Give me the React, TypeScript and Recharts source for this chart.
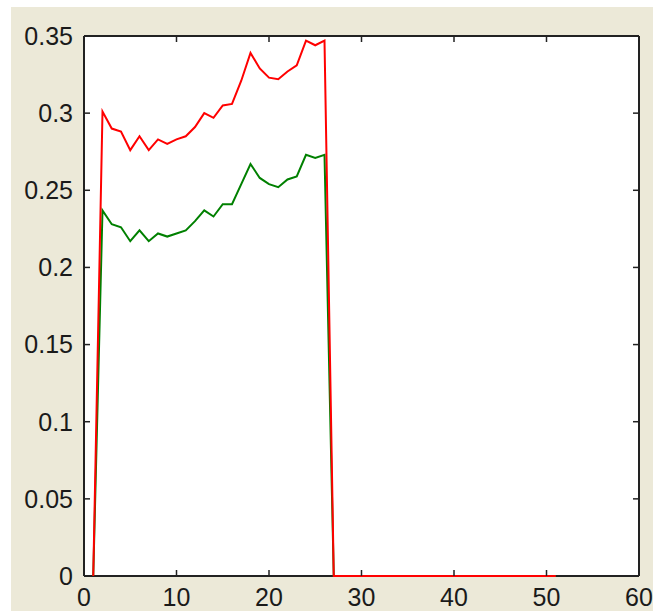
import React from 'react';
import { LineChart, Line, XAxis, YAxis, CartesianGrid } from 'recharts';

const xValues = [
  1, 2, 3, 4, 5, 6, 7, 8, 9, 10, 11, 12, 13, 14, 15, 16, 17, 18, 19, 20, 21, 22, 23, 24, 25, 26,
  27, 28, 29, 30, 31, 32, 33, 34, 35, 36, 37, 38, 39, 40, 41, 42, 43, 44, 45, 46, 47, 48, 49, 50, 51,
];

const redValues = [
  0, 0.301, 0.29, 0.288, 0.276, 0.285, 0.276, 0.283, 0.28, 0.283, 0.285, 0.291, 0.3, 0.297, 0.305,
  0.306, 0.321, 0.339, 0.329, 0.323, 0.322, 0.327, 0.331, 0.347, 0.344, 0.347,
  0, 0, 0, 0, 0, 0, 0, 0, 0, 0, 0, 0, 0, 0, 0, 0, 0, 0, 0, 0, 0, 0, 0, 0, 0,
];

const greenValues = [
  0, 0.237, 0.228, 0.226, 0.217, 0.224, 0.217, 0.222, 0.22, 0.222, 0.224, 0.23, 0.237, 0.233, 0.241,
  0.241, 0.254, 0.267, 0.258, 0.254, 0.252, 0.257, 0.259, 0.273, 0.271, 0.273,
  0, 0, 0, 0, 0, 0, 0, 0, 0, 0, 0, 0, 0, 0, 0, 0, 0, 0, 0, 0, 0, 0, 0, 0, 0,
];

const xTicks = [0, 10, 20, 30, 40, 50, 60];
const yTicks = [0, 0.05, 0.1, 0.15, 0.2, 0.25, 0.3, 0.35];
const yTickLabels = ['0', '0.05', '0.1', '0.15', '0.2', '0.25', '0.3', '0.35'];

const data = xValues.map((x, i) => ({ x, red: redValues[i], green: greenValues[i] }));

const tickFont = { fontSize: 25, fill: '#1a1a1a', fontFamily: '"Liberation Sans", Arial, sans-serif' };
const axisColor = '#222';
const blank = () => '';

const boxRows = ({ offset }: any) => [offset.top, offset.top + offset.height];
const boxCols = ({ offset }: any) => [offset.left, offset.left + offset.width];

export default function App() {
  return (
    <div style={{ position: 'absolute', left: 0, top: 0, width: 653, height: 611, background: '#ffffff' }}>
      <div style={{ position: 'absolute', left: 11, top: 7, width: 642, height: 604, background: '#ECE9D8' }} />
      <div style={{ position: 'absolute', left: 0, top: 0 }}>
        <LineChart width={653} height={611} data={data} margin={{ top: 36, right: 14, bottom: 5, left: 24 }}>
          <CartesianGrid xAxisId="x" yAxisId="y" fill="#ffffff" stroke={axisColor} strokeWidth={2}
            horizontalCoordinatesGenerator={boxRows} verticalCoordinatesGenerator={boxCols} />
          <XAxis xAxisId="xb" dataKey="x" type="number" domain={[0, 60]} ticks={xTicks} orientation="bottom" mirror height={1}
            axisLine={false} tickLine={{ stroke: axisColor, strokeWidth: 1.5 }} tickSize={6} tickFormatter={blank} interval={0} />
          <XAxis xAxisId="xt" dataKey="x" type="number" domain={[0, 60]} ticks={xTicks} orientation="top" mirror height={1}
            axisLine={false} tickLine={{ stroke: axisColor, strokeWidth: 1.5 }} tickSize={6} tickFormatter={blank} interval={0} />
          <XAxis xAxisId="x" dataKey="x" type="number" domain={[0, 60]} ticks={xTicks} orientation="bottom" height={30}
            axisLine={false} tickLine={false} tickSize={0} tickMargin={12} tick={tickFont} interval={0} />
          <YAxis yAxisId="yl" type="number" domain={[0, 0.35]} ticks={yTicks} orientation="left" mirror width={1}
            axisLine={false} tickLine={{ stroke: axisColor, strokeWidth: 1.5 }} tickSize={6} tickFormatter={blank} interval={0} />
          <YAxis yAxisId="yr" type="number" domain={[0, 0.35]} ticks={yTicks} orientation="right" mirror width={1}
            axisLine={false} tickLine={{ stroke: axisColor, strokeWidth: 1.5 }} tickSize={6} tickFormatter={blank} interval={0} />
          <YAxis yAxisId="y" type="number" domain={[0, 0.35]} ticks={yTicks} orientation="left" width={60}
            axisLine={false} tickLine={false} tickSize={0} tickMargin={11} tick={tickFont} interval={0}
            tickFormatter={(v: number) => yTickLabels[yTicks.indexOf(v)] ?? String(v)} />
          <Line xAxisId="xb" yAxisId="yl" type="linear" dataKey="red" stroke="none" strokeWidth={0} dot={false} activeDot={false} legendType="none" isAnimationActive={false} />
          <Line xAxisId="xt" yAxisId="yr" type="linear" dataKey="red" stroke="none" strokeWidth={0} dot={false} activeDot={false} legendType="none" isAnimationActive={false} />
          <Line xAxisId="x" yAxisId="y" type="linear" dataKey="green" stroke="#008000" strokeWidth={2} dot={false} isAnimationActive={false} />
          <Line xAxisId="x" yAxisId="y" type="linear" dataKey="red" stroke="#ff0000" strokeWidth={2} dot={false} isAnimationActive={false} />
        </LineChart>
      </div>
    </div>
  );
}
